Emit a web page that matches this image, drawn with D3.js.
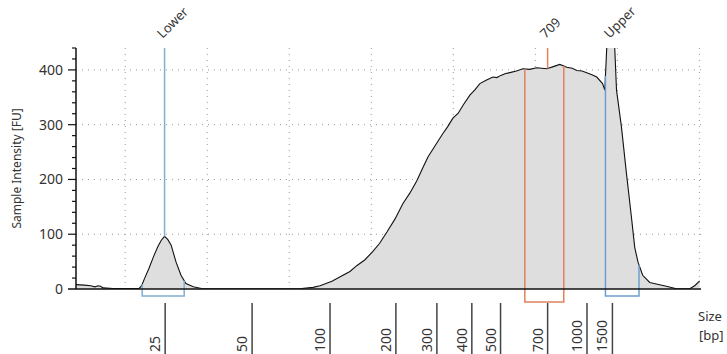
<!DOCTYPE html>
<html>
<head>
<meta charset="utf-8">
<script src="https://cdn.jsdelivr.net/npm/d3@7"></script>
<style>
  body { margin: 0; background: #fff; }
  svg { display: block; font-family: "Noto Sans", "DejaVu Sans", sans-serif; }
</style>
</head>
<body>
<svg id="chart" width="727" height="354"></svg>
<script>
/* migration time (s) of each trace point and its intensity (FU) */
var traceTime = [44.0, 45.0, 45.8, 46.3, 46.7, 47.0, 47.3, 48.5, 51.7, 52.0, 52.35, 52.9, 53.5, 54.0,
                 54.4, 54.8, 55.2, 55.6, 56.2, 56.8, 57.4, 58.3, 59.3, 65.2, 70.1, 71.5, 72.9,
                 73.75, 75.2, 76.55, 77.4, 78.26, 79.2, 80.09, 81.0, 81.91, 82.9, 83.86, 84.7,
                 85.57, 86.3, 86.91, 87.8, 88.73, 89.3, 89.95, 90.6, 91.17, 92.02, 92.6, 93.24,
                 94.0, 94.82, 95.3, 95.8, 96.3, 96.89, 97.7, 98.48, 99.3, 100.18,
                 100.8, 101.4, 102.2, 102.98, 103.84, 104.5, 105.06, 105.7, 106.27, 106.9, 107.49,
                 108.2, 108.47, 108.8, 109.2, 109.6, 109.9, 110.5, 111.11, 111.72, 112.12, 112.52,
                 113.09, 113.95, 115.98, 117.2, 118.82, 119.43, 120.04];
var traceFU   = [8, 7, 6, 4, 6, 5, 2, 1, 1, 6, 19, 38, 61, 78,
                 89, 96, 90, 80, 49, 25, 10, 4, 1, 0.5, 0.5, 1, 3,
                 6, 14, 25, 32, 43, 53, 67, 83, 104, 128, 156, 175,
                 198, 222, 241, 262, 284, 296, 312, 321, 335, 354, 363, 375,
                 381, 387, 386, 390, 393, 395, 398, 402, 401, 404,
                 403, 402, 406, 410, 405, 403, 399, 398, 395, 391, 387,
                 375, 363, 470, 520, 470, 363, 296, 211, 131, 76, 49,
                 25, 12, 5, 0.5, 0.5, 6, 15];

var yTicks      = [0, 100, 200, 300, 400];
var timeGrid    = [50, 60, 70, 80, 90, 100, 110, 120];
var sizeLabels  = ["25", "50", "100", "200", "300", "400", "500", "700", "1000", "1500"];
var sizeTimes   = [54.87, 65.47, 74.97, 83.0, 88.0, 92.26, 95.76, 101.5, 106.3, 109.4];

var markerNames = ["Lower", "709", "Upper"];
var markerTimes = [54.8, 101.5, 109.3];
var markerFrom  = [52.07, 98.72, 108.55];
var markerTo    = [57.19, 103.47, 112.64];

var svg = d3.select('#chart');
var margin = {top: 48, left: 76, right: 26, bottom: 65},
    width  = 727 - margin.left - margin.right,
    height = 354 - margin.top  - margin.bottom;

var x = d3.scaleLinear().domain([44, 120.2]).range([margin.left, margin.left + width]);
var y = d3.scaleLinear().domain([0, 440]).range([margin.top + height, margin.top]);

var pts = traceTime.map(function (t, i) { return {t: t, v: traceFU[i]}; });

function fuAt(t) {
    var i = d3.bisector(function (d) { return d.t; }).left(pts, t);
    if (i <= 0) { return pts[0].v; }
    if (i >= pts.length) { return pts[pts.length - 1].v; }
    var a = pts[i - 1], b = pts[i];
    return a.v + (b.v - a.v) * (t - a.t) / (b.t - a.t);
}

svg.append('defs').append('clipPath').attr('id', 'plot')
   .append('rect')
   .attr('x', margin.left).attr('y', margin.top)
   .attr('width', width).attr('height', height);

/* dotted grid */
svg.append('g').selectAll('line')
   .data(yTicks.slice(1))
   .enter().append('line')
     .attr('x1', margin.left).attr('x2', margin.left + width)
     .attr('y1', function (d) { return y(d); })
     .attr('y2', function (d) { return y(d); })
     .attr('stroke', '#9a9a9a').attr('stroke-dasharray', '1,5');
svg.append('g').selectAll('line')
   .data(timeGrid)
   .enter().append('line')
     .attr('x1', function (d) { return x(d); })
     .attr('x2', function (d) { return x(d); })
     .attr('y1', margin.top).attr('y2', y(0))
     .attr('stroke', '#9a9a9a').attr('stroke-dasharray', '1,5');

/* trace */
var plot = svg.append('g').attr('clip-path', 'url(#plot)');
plot.append('path')
    .datum(pts)
    .attr('fill', '#dedede')
    .attr('d', d3.area()
        .x(function (d) { return x(d.t); })
        .y0(y(0))
        .y1(function (d) { return y(d.v); }));
plot.append('path')
    .datum(pts)
    .attr('fill', 'none')
    .attr('stroke', '#111')
    .attr('stroke-width', 1.1)
    .attr('d', d3.line()
        .x(function (d) { return x(d.t); })
        .y(function (d) { return y(d.v); }));

/* markers: peak line, bracket, label */
var colors = ['#7fb0d2', '#e0825c', '#6d9fce'];
for (var i = 0; i < markerNames.length; i++) {
    var c = colors[i];
    var below = (i == 1) ? y(0) + 13 : y(0) + 7;
    var m = svg.append('g').attr('fill', 'none').attr('stroke', c).attr('stroke-width', 1.5);
    var peakY = Math.max(y(fuAt(markerTimes[i])), margin.top);
    m.append('line')
     .attr('x1', x(markerTimes[i])).attr('x2', x(markerTimes[i]))
     .attr('y1', margin.top).attr('y2', peakY);
    m.append('path')
     .attr('d', 'M' + x(markerFrom[i]) + ',' + y(fuAt(markerFrom[i])) +
                'V' + below + 'H' + x(markerTo[i]) +
                'V' + y(fuAt(markerTo[i])));
    svg.append('text')
       .attr('transform', 'translate(' + (x(markerTimes[i]) - 2) + ',' + 39 + ') rotate(-45)')
       .attr('font-size', 13).attr('fill', '#333')
       .text(markerNames[i]);
}

/* axes */
var ax = svg.append('g').attr('stroke', '#111');
ax.append('line')
  .attr('x1', margin.left).attr('x2', margin.left)
  .attr('y1', margin.top).attr('y2', y(0))
  .attr('stroke-width', 1.5);
ax.append('line')
  .attr('x1', margin.left - 8).attr('x2', margin.left + width)
  .attr('y1', y(0)).attr('y2', y(0))
  .attr('stroke-width', 1.5);
ax.selectAll('.minor')
  .data(d3.range(20, 441, 20))
  .enter().append('line')
    .attr('x1', function (d) { return d % 100 == 0 ? margin.left - 8 : margin.left - 4; })
    .attr('x2', margin.left)
    .attr('y1', function (d) { return y(d); })
    .attr('y2', function (d) { return y(d); })
    .attr('stroke-width', 1.2);

svg.append('g').selectAll('text')
   .data(yTicks)
   .enter().append('text')
     .attr('x', margin.left - 13)
     .attr('y', function (d) { return y(d) + 5; })
     .attr('text-anchor', 'end')
     .attr('font-size', 14).attr('fill', '#333')
     .text(function (d) { return d; });

svg.append('text')
   .attr('transform', 'translate(21,' + (margin.top + height / 2) + ') rotate(-90)')
   .attr('text-anchor', 'middle')
   .attr('font-size', 12).attr('fill', '#333')
   .text('Sample Intensity [FU]');

/* size ladder */
svg.append('g').selectAll('line')
   .data(sizeTimes)
   .enter().append('line')
     .attr('x1', function (d) { return x(d); })
     .attr('x2', function (d) { return x(d); })
     .attr('y1', 303).attr('y2', 354)
     .attr('stroke', '#444').attr('stroke-width', 1.5);
svg.append('g').selectAll('text')
   .data(sizeLabels)
   .enter().append('text')
     .attr('transform', function (d, i) {
         return 'translate(' + (x(sizeTimes[i]) - 5) + ',352) rotate(-90)';
     })
     .attr('font-size', 14).attr('fill', '#333')
     .text(function (d) { return d; });

svg.append('text').attr('x', 698).attr('y', 321)
   .attr('font-size', 13).attr('fill', '#333').text('Size');
svg.append('text').attr('x', 699).attr('y', 340)
   .attr('font-size', 13).attr('fill', '#333').text('[bp]');
</script>
</body>
</html>
